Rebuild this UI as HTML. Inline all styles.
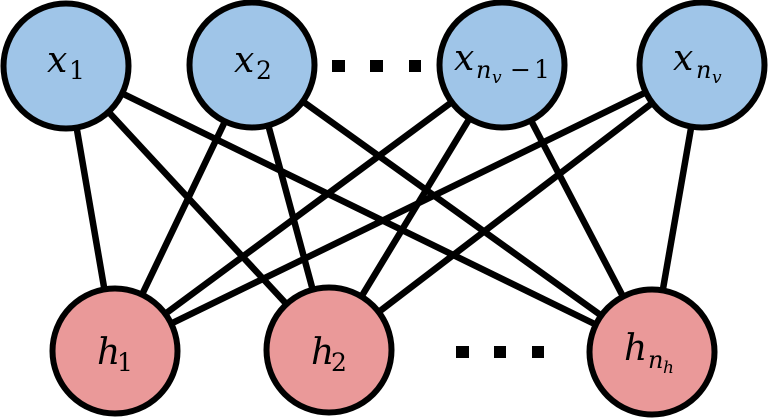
<!DOCTYPE html>
<html>
<head>
<meta charset="utf-8">
<style>
  html, body { margin: 0; padding: 0; background: #ffffff; }
  svg { display: block; }
  text { font-family: "DejaVu Serif", "Liberation Serif", serif; }
</style>
</head>
<body>
<svg width="768" height="418" viewBox="0 0 768 418" xmlns="http://www.w3.org/2000/svg">
  <!-- edges -->
  <g stroke="#000" stroke-width="6.5" fill="none">
    <line x1="66" y1="66" x2="115" y2="351"/>
    <line x1="66" y1="66" x2="329" y2="350"/>
    <line x1="66" y1="66" x2="652" y2="352"/>
    <line x1="252" y1="65" x2="115" y2="351"/>
    <line x1="252" y1="65" x2="329" y2="350"/>
    <line x1="252" y1="65" x2="652" y2="352"/>
    <line x1="502" y1="65" x2="115" y2="351"/>
    <line x1="502" y1="65" x2="329" y2="350"/>
    <line x1="502" y1="65" x2="652" y2="352"/>
    <line x1="702" y1="65" x2="115" y2="351"/>
    <line x1="702" y1="65" x2="329" y2="350"/>
    <line x1="702" y1="65" x2="652" y2="352"/>
  </g>

  <!-- nodes -->
  <g stroke="#000" stroke-width="6">
    <circle cx="66" cy="66" r="62.5" fill="#9fc5e8"/>
    <circle cx="252" cy="65" r="62.5" fill="#9fc5e8"/>
    <circle cx="502" cy="65" r="62.5" fill="#9fc5e8"/>
    <circle cx="702" cy="65" r="62.5" fill="#9fc5e8"/>
    <circle cx="115" cy="351" r="62.5" fill="#ea9999"/>
    <circle cx="329" cy="350" r="62.5" fill="#ea9999"/>
    <circle cx="652" cy="352" r="62.5" fill="#ea9999"/>
  </g>

  <!-- ellipsis marks -->
  <g fill="#000">
    <rect x="332" y="60" width="13" height="12"/>
    <rect x="370" y="60" width="13" height="12"/>
    <rect x="409" y="60" width="12" height="12"/>
    <rect x="456" y="346" width="13" height="12"/>
    <rect x="494" y="346" width="12" height="12"/>
    <rect x="532" y="346" width="12" height="12"/>
  </g>

  <!-- labels -->
  <g fill="#000">
    <text font-style="italic" x="47" y="72" font-size="36">x</text>
    <text x="69" y="79" font-size="25">1</text>

    <text font-style="italic" x="234" y="72" font-size="36">x</text>
    <text x="256" y="79" font-size="25">2</text>

    <text font-style="italic" x="454" y="70" font-size="36">x</text>
    <text font-style="italic" x="476" y="78" font-size="24">n</text>
    <text font-style="italic" x="492" y="83" font-size="17">v</text>
    <text x="510" y="78" font-size="25">−</text>
    <text x="534" y="78" font-size="25">1</text>

    <text font-style="italic" x="673" y="70" font-size="36">x</text>
    <text font-style="italic" x="696" y="78" font-size="24">n</text>
    <text font-style="italic" x="712" y="83" font-size="17">v</text>

    <text font-style="italic" x="97" y="364" font-size="36">h</text>
    <text x="117" y="371" font-size="25">1</text>

    <text font-style="italic" x="311" y="364" font-size="36">h</text>
    <text x="331" y="371" font-size="25">2</text>

    <text font-style="italic" x="624" y="360" font-size="36">h</text>
    <text font-style="italic" x="648" y="368" font-size="24">n</text>
    <text font-style="italic" x="663" y="373" font-size="17">h</text>
  </g>
</svg>
</body>
</html>
